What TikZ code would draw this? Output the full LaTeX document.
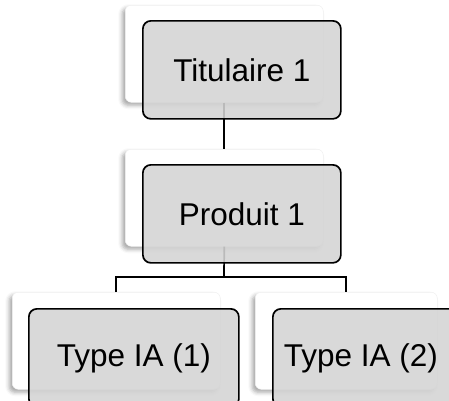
\documentclass[tikz,border=0pt]{standalone}
\usepackage{fontspec}
\setmainfont{Liberation Sans}
\usetikzlibrary{shadows.blur}
\definecolor{boxgray}{HTML}{D4D4D4}
\tikzset{
  backbox/.style={draw=gray!12, line width=0.5pt, fill=white, rounded corners=6pt,
    blur shadow={shadow xshift=-3pt, shadow yshift=-3pt, shadow blur radius=4pt, shadow opacity=35},
    minimum height=97pt, inner sep=0pt, anchor=north west},
  frontbox/.style={draw=black, line width=1.7pt, fill=boxgray, fill opacity=0.88, text opacity=1,
    rounded corners=8pt, minimum height=98pt, inner sep=0pt, anchor=north west,
    font=\fontsize{31.5}{36}\selectfont},
  link/.style={draw=black, line width=1.7pt}
}
\begin{document}
\begin{tikzpicture}[x=1pt,y=-1pt]
\useasboundingbox (0,0) rectangle (449,400);
% back boxes
\node[backbox, minimum width=198pt] (t0) at (125,5) {};
\node[backbox, minimum width=198pt] (p0) at (125,149) {};
\node[backbox, minimum width=208pt] (a0) at (12,292) {};
\node[backbox, minimum width=182pt] (b0) at (255,292) {};
% connectors
\coordinate (j) at (224,277);
\draw[link] (t0.south) -- (p0.north);
\draw[link] (p0.south) -- (j);
\draw[link] (a0.north) |- (j) -| (b0.north);
% front boxes
\node[frontbox, minimum width=198pt] (t) at (142,20) {Titulaire 1};
\node[frontbox, minimum width=198pt] (p) at (142,164) {Produit 1};
\node[frontbox, minimum width=210pt] (a) at (28,308) {Type IA (1)};
\node[frontbox, minimum width=190pt] (b) at (272,308) {Type IA (2)\kern14pt};
\end{tikzpicture}
\end{document}
